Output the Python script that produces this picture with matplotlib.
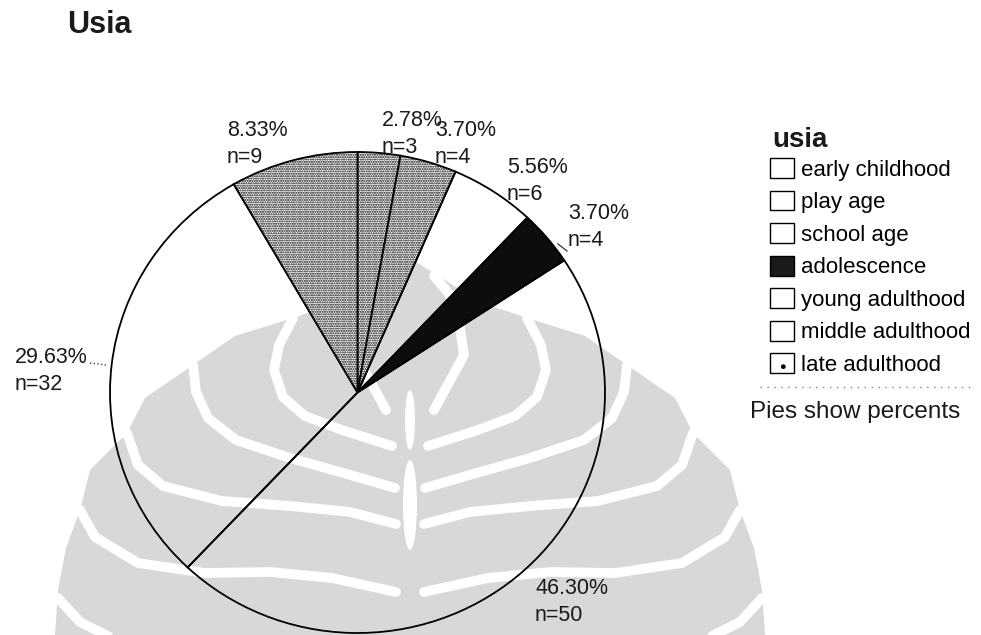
import matplotlib
matplotlib.use("Agg")
import matplotlib.pyplot as plt
from matplotlib.patches import Patch, Polygon, Ellipse
from matplotlib.lines import Line2D

plt.rcParams['font.family'] = ['Liberation Sans', 'DejaVu Sans']
plt.rcParams['hatch.linewidth'] = 1.0

# age groups and counts
categories = ["early childhood", "play age", "school age", "adolescence",
              "young adulthood", "middle adulthood", "late adulthood"]
counts = [3, 4, 6, 4, 50, 32, 9]

W, H = 981, 635
fig = plt.figure(figsize=(W / 100, H / 100), dpi=100)

# background watermark (pixel coordinates, y down)
wm = fig.add_axes([0, 0, 1, 1])
wm.set_xlim(0, W)
wm.set_ylim(H, 0)
wm.axis('off')
mid = 410
left_edge = [(55, 635), (58, 590), (66, 548), (80, 510), (90, 470), (127, 433),
             (145, 398), (193, 365), (235, 336), (293, 318), (340, 302), (385, 274),
             (410, 258)]
outline = left_edge + [(2 * mid - x, y) for x, y in reversed(left_edge[:-1])]
wm.add_patch(Polygon(outline, closed=True, facecolor='#d8d8d8', edgecolor='none'))

hooks = [
    [(293, 318), (279, 345), (274, 370), (283, 397), (305, 416), (342, 430), (392, 446)],
    [(193, 365), (196, 392), (208, 418), (236, 440), (290, 458), (347, 474), (395, 488)],
    [(127, 433), (138, 465), (163, 486), (222, 501), (290, 506), (350, 512), (396, 524)],
    [(80, 510), (95, 537), (138, 563), (205, 573), (270, 572), (332, 578), (396, 592)],
    [(58, 598), (80, 622), (112, 638)],
    [(386, 276), (364, 302), (356, 355), (386, 410)],
]
for pts in hooks:
    for side in (1, -1):
        xs = [mid + side * (x - mid) for x, y in pts]
        ys = [y for x, y in pts]
        wm.plot(xs, ys, color='white', lw=7, solid_capstyle='round',
                solid_joinstyle='round')
wm.add_patch(Ellipse((mid, 505), 14, 90, facecolor='white', edgecolor='none'))
wm.add_patch(Ellipse((mid, 420), 10, 60, facecolor='white', edgecolor='none'))

# pie
cx, cy, rx, ry = 357.5, 392.5, 247.5, 240.5
ax = fig.add_axes([(cx - rx) / W, (H - cy - ry) / H, 2 * rx / W, 2 * ry / H])
ax.patch.set_visible(False)
faces = ['white', 'white', 'none', '#0d0d0d', 'none', 'none', 'white']
hatches = ['.......', '.......', None, None, None, None, '.......']
wedges, _ = ax.pie(counts, startangle=90, counterclock=False,
                   wedgeprops=dict(edgecolor='black', linewidth=1.3))
for w, fc, h in zip(wedges, faces, hatches):
    w.set_facecolor(fc)
    w.set_clip_on(False)
    if h:
        w.set_hatch(h)
ax.set_aspect('auto')
ax.set_xlim(-1, 1)
ax.set_ylim(-1, 1)
ax.axis('off')

# slice labels: percent and n
total = sum(counts)
label_pos = [(382, 110), (435, 120), (507, 157), (568, 203), (535, 578), (15, 347), (227, 120)]
for n, (x, y) in zip(counts, label_pos):
    fig.text(x / W, 1 - y / H, f"{100 * n / total:.2f}%", fontsize=15.5,
             va='top', ha='left', color='#1a1a1a')
    fig.text(x / W, 1 - (y + 27) / H, f"n={n}", fontsize=15.5,
             va='top', ha='left', color='#1a1a1a')
fig.add_artist(Line2D([90 / W, 106 / W], [1 - 363 / H, 1 - 365 / H], color='#444444',
                      lw=1, ls=':'))
fig.add_artist(Line2D([558 / W, 567 / W], [1 - 244 / H, 1 - 251 / H], color='#444444',
                      lw=1))

fig.text(67 / W, 1 - 25 / H, "Usia", fontsize=22, fontweight='bold',
         va='center', ha='left', color='#1a1a1a')

# legend
handles = []
for c in categories:
    if c == "adolescence":
        handles.append(Patch(facecolor='#1a1a1a', edgecolor='black', lw=1))
    elif c == "late adulthood":
        handles.append(Patch(facecolor='white', edgecolor='black', lw=1, hatch='.'))
    else:
        handles.append(Patch(facecolor='white', edgecolor='black', lw=1))
fig.text(772 / W, 1 - 140 / H, "usia", fontsize=20, fontweight='bold',
         va='center', ha='left', color='#1a1a1a')
leg = fig.legend(handles, categories, loc='upper left',
                 bbox_to_anchor=(770 / W, 1 - 158 / H), frameon=False,
                 fontsize=16, handlelength=1.07, handleheight=1.0,
                 handletextpad=0.33, labelspacing=0.45, borderaxespad=0,
                 borderpad=0)
fig.add_artist(Line2D([760 / W, 975 / W], [1 - 387 / H, 1 - 387 / H], color='#888888',
                      lw=1, ls=(0, (1, 4))))
fig.text(750 / W, 1 - 412 / H, "Pies show percents", fontsize=17.5,
         va='center', ha='left', color='#1a1a1a')

fig.savefig("out.png", dpi=100)
